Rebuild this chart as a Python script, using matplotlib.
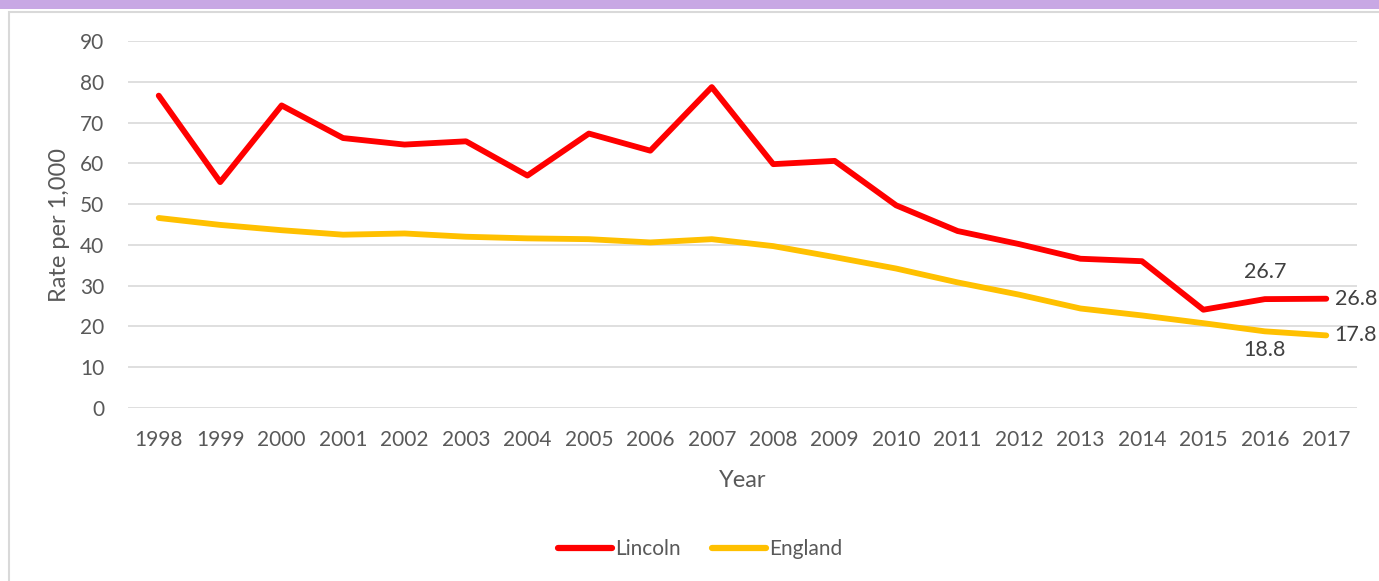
import matplotlib
matplotlib.use("Agg")
import matplotlib.pyplot as plt
from matplotlib.patches import Rectangle

years = [str(y) for y in range(1998, 2018)]
lincoln = [76.6, 55.4, 74.2, 66.2, 64.6, 65.4, 57.0, 67.3, 63.1, 78.7,
           59.8, 60.6, 49.7, 43.4, 40.2, 36.6, 36.0, 24.1, 26.7, 26.8]
england = [46.6, 44.9, 43.6, 42.5, 42.8, 42.0, 41.6, 41.4, 40.6, 41.4,
           39.7, 37.0, 34.2, 30.8, 27.8, 24.4, 22.7, 20.8, 18.8, 17.8]
yticks = list(range(0, 100, 10))

plt.rcParams['font.family'] = ['Lato', 'DejaVu Sans']
txt = '#595959'

W, H = 1379, 581
fig = plt.figure(figsize=(W/100, H/100), dpi=100)
fig.patch.set_facecolor('white')

# purple band and panel border
fig.add_artist(Rectangle((0, 1 - 9/H), 1, 9/H, transform=fig.transFigure,
                         facecolor='#C8A8E4', edgecolor='none'))
fig.add_artist(Rectangle((8.5/W, -0.1), 1.2, 1 - 11.5/H + 0.1, transform=fig.transFigure,
                         facecolor='none', edgecolor='#D9D9D9', linewidth=1.5))

x0, x1 = 128, 1357
ytop, ybot = 41, 408
ax = fig.add_axes([x0/W, 1 - ybot/H, (x1 - x0)/W, (ybot - ytop)/H])
ax.set_facecolor('none')
xs = list(range(len(years)))
ax.plot(xs, lincoln, color='#FF0000', linewidth=4.2, solid_capstyle='round',
        solid_joinstyle='round', label='Lincoln', zorder=3)
ax.plot(xs, england, color='#FFC000', linewidth=4.2, solid_capstyle='round',
        solid_joinstyle='round', label='England', zorder=3)
ax.set_xlim(-0.5, len(years) - 0.5)
ax.set_ylim(0, 90)
ax.set_yticks(yticks)
ax.set_xticks(xs)
ax.set_xticklabels(years)
ax.grid(axis='y', color='#D9D9D9', linewidth=1.2)
ax.set_axisbelow(True)
for s in ax.spines.values():
    s.set_visible(False)
ax.tick_params(length=0, labelsize=15, colors=txt)
ax.tick_params(axis='x', pad=15.5)
ax.tick_params(axis='y', pad=17)
ax.set_xlabel('Year', fontsize=17, color=txt, labelpad=15)
ax.set_ylabel('Rate per 1,000', fontsize=17, color=txt, labelpad=7)

lblc = '#404040'
n = len(years) - 1
ax.annotate(f"{lincoln[n-1]:.1f}", (n-1, lincoln[n-1]), xytext=(0, 12),
            textcoords='offset points', ha='center', va='bottom', fontsize=15.5, color=lblc)
ax.annotate(f"{lincoln[n]:.1f}", (n, lincoln[n]), xytext=(6, 0),
            textcoords='offset points', ha='left', va='center', fontsize=15.5, color=lblc)
ax.annotate(f"{england[n-1]:.1f}", (n-1, england[n-1]), xytext=(0, -6),
            textcoords='offset points', ha='center', va='top', fontsize=15.5, color=lblc)
ax.annotate(f"{england[n]:.1f}", (n, england[n]), xytext=(6, 0),
            textcoords='offset points', ha='left', va='center', fontsize=15.5, color=lblc)

leg = fig.legend(loc='center', bbox_to_anchor=(700/W, 1 - 549/H), ncol=2, frameon=False,
                 fontsize=15, handlelength=2.6, handletextpad=0.15, columnspacing=1.5)
for t in leg.get_texts():
    t.set_color(txt)
for l in leg.get_lines():
    l.set_linewidth(4.5)

fig.savefig('out.png', dpi=100, facecolor='white')
